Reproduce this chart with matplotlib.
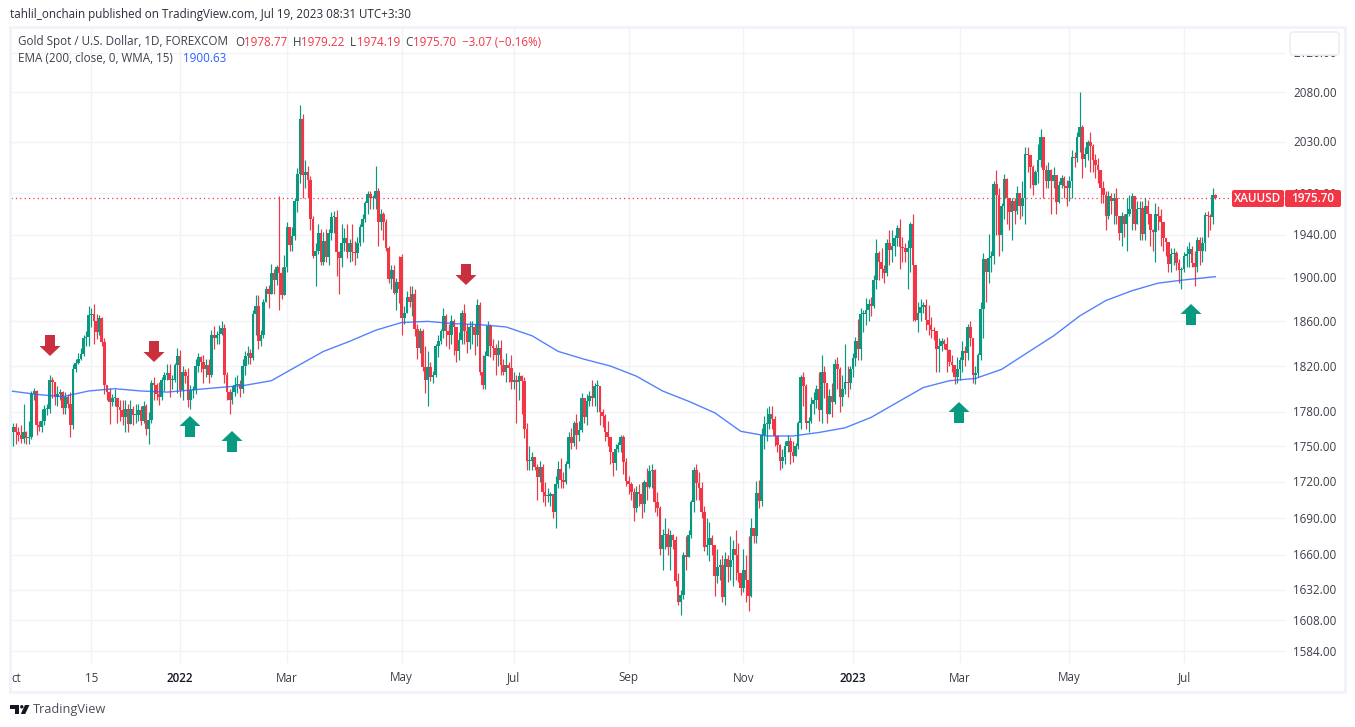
import matplotlib
matplotlib.use("Agg")
import matplotlib.pyplot as plt
from matplotlib.patches import Polygon, Rectangle, FancyBboxPatch
import numpy as np

plt.rcParams['font.family'] = ['Open Sans', 'DejaVu Sans']

# daily closes, 10 per row
closes = [
    1762,1767,1762,1760,1756,1762,1757,1758,1795,1798,
    1768,1767,1772,1782,1782,1808,1806,1793,1795,1797,
    1783,1793,1787,1768,1817,1823,1826,1831,1845,1846,
    1866,1867,1860,1850,1863,1841,1803,1797,1788,1792,
    1792,1784,1781,1775,1782,1769,1782,1777,1777,1781,
    1772,1785,1765,1773,1805,1803,1795,1793,1808,1812,
    1814,1808,1808,1821,1829,1799,1815,1811,1790,1799,
    1799,1820,1828,1824,1817,1821,1812,1848,1845,1848,
    1849,1854,1812,1797,1790,1797,1803,1804,1800,1820,
    1829,1832,1827,1867,1874,1842,1848,1878,1890,1885,
    1904,1898,1910,1904,1884,1910,1948,1931,1939,1972,
    1999,2053,1998,2000,1993,1955,1920,1925,1942,1915,
    1934,1919,1942,1957,1957,1924,1918,1932,1937,1924,
    1932,1924,1923,1932,1948,1955,1970,1979,1975,1975,
    1982,1952,1960,1952,1928,1899,1907,1886,1896,1890,
    1863,1868,1882,1878,1885,1853,1836,1851,1819,1808,
    1819,1810,1812,1838,1842,1851,1865,1851,1848,1860,
    1855,1833,1843,1868,1851,1841,1855,1855,1848,1875,
    1815,1803,1829,1856,1838,1836,1830,1836,1821,1815,
    1821,1818,1806,1808,1806,1811,1807,1765,1738,1738,
    1741,1733,1724,1733,1712,1708,1708,1710,1695,1718,
    1731,1722,1720,1735,1758,1753,1770,1760,1764,1792,
    1775,1789,1794,1792,1802,1802,1780,1776,1762,1758,
    1745,1736,1748,1751,1758,1737,1721,1718,1712,1698,
    1712,1710,1702,1720,1716,1729,1730,1703,1698,1665,
    1676,1677,1666,1676,1672,1639,1622,1628,1660,1658,
    1676,1703,1730,1719,1715,1695,1666,1668,1674,1668,
    1643,1650,1652,1626,1657,1650,1656,1665,1660,1645,
    1633,1648,1640,1627,1682,1675,1711,1704,1760,1769,
    1769,1778,1774,1759,1751,1738,1741,1750,1755,1745,
    1742,1750,1770,1810,1802,1770,1772,1787,1790,1800,
    1781,1815,1805,1778,1794,1788,1822,1817,1793,1800,
    1806,1805,1817,1827,1842,1835,1867,1867,1870,1876,
    1874,1898,1923,1915,1908,1904,1932,1926,1930,1937,
    1947,1929,1928,1924,1928,1950,1912,1861,1868,1873,
    1875,1861,1857,1852,1851,1835,1838,1842,1840,1834,
    1824,1821,1810,1817,1825,1833,1832,1855,1845,1812,
    1814,1830,1871,1917,1905,1918,1920,1989,1978,1940,
    1968,1994,1975,1962,1972,1963,1980,1968,1975,2018,
    2017,2005,1988,2000,2012,2035,2002,1992,2002,1992,
    1998,1971,1988,1995,1987,1985,1992,2015,2014,2035,
    2045,2013,2018,2030,2026,2012,2007,2002,1985,1978,
    1958,1977,1972,1975,1958,1942,1958,1950,1960,1965,
    1977,1950,1965,1966,1941,1968,1960,1945,1943,1960,
    1958,1952,1937,1933,1913,1922,1923,1914,1907,1908,
    1920,1922,1927,1914,1910,1935,1925,1932,1959,1958,
    1957,1978,1975.7,
]
highs = [
    1770,1770,1770,1767,1768,1787,1763,1772,1798,1801,
    1799,1772,1782,1786,1787,1812,1810,1803,1802,1800,
    1798,1797,1795,1797,1822,1826,1832,1836,1848,1851,
    1874,1872,1876,1867,1866,1864,1845,1803,1801,1795,
    1800,1790,1790,1790,1790,1787,1790,1785,1787,1787,
    1785,1789,1787,1780,1808,1810,1805,1806,1810,1815,
    1822,1822,1812,1823,1836,1834,1820,1817,1818,1803,
    1802,1826,1832,1829,1830,1826,1826,1852,1856,1851,
    1857,1860,1858,1815,1800,1802,1810,1812,1808,1826,
    1833,1838,1835,1870,1884,1884,1852,1880,1892,1893,
    1913,1908,1912,1977,1910,1921,1952,1937,1948,1975,
    2004,2067,2058,2012,2006,1997,1958,1932,1950,1946,
    1943,1946,1946,1962,1963,1964,1925,1950,1947,1950,
    1936,1950,1934,1938,1950,1960,1972,1982,1982,1978,
    2006,1985,1965,1962,1955,1930,1912,1912,1900,1920,
    1922,1874,1888,1892,1892,1890,1858,1854,1853,1838,
    1833,1824,1816,1840,1848,1853,1872,1867,1858,1866,
    1862,1852,1850,1870,1876,1858,1860,1860,1858,1880,
    1878,1830,1833,1860,1858,1844,1840,1843,1843,1826,
    1832,1824,1830,1815,1812,1815,1812,1810,1770,1750,
    1745,1740,1735,1738,1735,1720,1715,1712,1705,1725,
    1738,1740,1728,1738,1762,1766,1772,1778,1772,1796,
    1785,1795,1798,1808,1805,1808,1790,1782,1778,1772,
    1758,1745,1752,1754,1760,1760,1740,1725,1720,1715,
    1717,1718,1720,1722,1732,1734,1735,1731,1712,1700,
    1681,1690,1682,1680,1677,1675,1645,1632,1662,1675,
    1680,1705,1733,1735,1728,1720,1700,1690,1687,1676,
    1660,1665,1657,1660,1662,1660,1675,1672,1680,1670,
    1645,1665,1660,1675,1690,1682,1721,1722,1766,1776,
    1783,1785,1785,1776,1760,1752,1748,1755,1760,1758,
    1755,1753,1772,1812,1815,1804,1775,1793,1797,1803,
    1815,1830,1820,1802,1800,1805,1826,1828,1819,1812,
    1840,1820,1820,1832,1846,1862,1872,1870,1881,1880,
    1882,1903,1936,1925,1928,1912,1936,1945,1945,1940,
    1949,1955,1938,1932,1935,1952,1960,1880,1878,1880,
    1878,1880,1875,1864,1855,1848,1845,1845,1844,1846,
    1835,1830,1820,1828,1828,1842,1838,1858,1860,1845,
    1820,1832,1878,1923,1915,1941,1925,1992,2002,1985,
    1970,1999,1995,1973,1975,1975,1987,1975,1992,2025,
    2025,2017,2007,2002,2028,2043,2035,2007,2010,2003,
    2005,1997,1992,1998,1997,1993,1997,2022,2020,2040,
    2080,2047,2025,2032,2040,2028,2018,2014,1992,1992,
    1982,1982,1980,1980,1985,1958,1962,1960,1975,1978,
    1980,1967,1972,1972,1972,1975,1973,1950,1946,1970,
    1968,1965,1945,1937,1928,1928,1928,1925,1917,1910,
    1924,1930,1933,1930,1925,1938,1938,1938,1962,1963,
    1960,1985,1979.2,
]
lows = [
    1748,1750,1752,1755,1753,1753,1752,1752,1756,1790,
    1760,1763,1762,1768,1777,1779,1792,1786,1785,1790,
    1778,1778,1783,1758,1765,1815,1822,1825,1829,1838,
    1838,1855,1840,1844,1848,1838,1795,1790,1769,1785,
    1785,1770,1772,1768,1762,1762,1773,1768,1770,1772,
    1768,1770,1760,1752,1770,1790,1790,1786,1790,1798,
    1808,1793,1800,1806,1796,1793,1790,1805,1784,1782,
    1792,1795,1815,1815,1805,1810,1805,1810,1835,1840,
    1840,1848,1805,1790,1778,1787,1794,1796,1793,1796,
    1812,1822,1822,1825,1848,1835,1838,1845,1878,1872,
    1888,1885,1893,1870,1880,1884,1905,1925,1925,1935,
    1962,1990,1975,1985,1975,1945,1918,1892,1922,1912,
    1912,1915,1912,1935,1942,1902,1885,1910,1925,1918,
    1915,1916,1912,1918,1930,1933,1952,1960,1965,1965,
    1965,1930,1945,1935,1925,1895,1890,1885,1870,1877,
    1848,1858,1868,1873,1865,1847,1826,1832,1816,1796,
    1785,1807,1805,1810,1828,1840,1845,1838,1835,1840,
    1830,1824,1825,1840,1840,1832,1835,1840,1830,1838,
    1812,1800,1800,1830,1828,1825,1812,1820,1812,1812,
    1806,1806,1800,1800,1770,1790,1778,1757,1730,1730,
    1730,1730,1705,1720,1703,1700,1703,1700,1690,1682,
    1715,1715,1715,1718,1732,1748,1750,1748,1755,1762,
    1770,1768,1785,1785,1785,1780,1768,1767,1755,1750,
    1735,1725,1730,1745,1745,1727,1717,1710,1705,1688,
    1695,1700,1690,1695,1705,1715,1715,1695,1692,1660,
    1648,1665,1660,1648,1665,1635,1620,1612,1625,1648,
    1660,1674,1695,1705,1705,1690,1663,1660,1655,1660,
    1627,1637,1640,1622,1620,1638,1640,1635,1640,1638,
    1628,1630,1622,1615,1626,1670,1670,1698,1700,1748,
    1755,1765,1765,1750,1745,1730,1732,1735,1745,1735,
    1737,1742,1748,1765,1785,1765,1762,1770,1778,1783,
    1772,1770,1792,1770,1778,1775,1787,1800,1780,1785,
    1795,1793,1800,1810,1820,1825,1825,1850,1857,1860,
    1865,1872,1890,1898,1900,1895,1902,1912,1915,1920,
    1930,1908,1915,1915,1890,1905,1860,1860,1850,1860,
    1868,1852,1848,1845,1843,1815,1815,1833,1835,1815,
    1820,1815,1804,1805,1808,1815,1820,1825,1838,1805,
    1804,1810,1825,1845,1878,1895,1905,1913,1940,1920,
    1925,1955,1950,1945,1935,1950,1960,1955,1958,1950,
    2000,1985,1978,1988,1990,2005,1975,1985,1985,1960,
    1985,1960,1970,1985,1975,1968,1972,1975,2005,2010,
    2020,1995,2005,2012,2000,2000,1995,1990,1970,1970,
    1945,1955,1960,1950,1950,1935,1930,1938,1925,1958,
    1945,1945,1950,1935,1935,1935,1950,1930,1925,1915,
    1945,1930,1925,1920,1905,1905,1912,1907,1895,1890,
    1905,1910,1910,1910,1892,1905,1912,1915,1925,1938,
    1945,1950,1974.2,
]
first_open = 1750
open_gaps = {150: 1919}   # bars that do not open at the previous close

# EMA read every 10 bars
ema_bars = [0,10,20,30,40,50,60,70,80,90,100,110,120,130,140,150,160,170,180,190,
            200,210,220,230,240,250,260,270,280,290,300,310,320,330,340,350,360,
            370,380,390,400,410,420,430,440,450,462]
ema_vals = [1798,1795,1793,1798,1800,1798,1797,1799,1801,1803,1807,1820,1833,1842,
            1852,1859,1860,1858,1857,1855,1847,1833,1826,1820,1811,1798,1789,1779,
            1763,1759,1759,1762,1766,1775,1788,1801,1807,1809,1817,1832,1847,1865,
            1879,1888,1895,1898,1901]

price_ticks = [1584,1608,1632,1660,1690,1720,1750,1780,1820,1860,1900,1940,1980,2030,2080,2120]
time_bars = [31,65,106,150,193,237,281,323,364,406,450]
time_labels = ['15','2022','Mar','May','Jul','Sep','Nov','2023','Mar','May','Jul']
last_price = 1975.7

# annotation arrows, pixel position on the page (x, tip y)
down_arrows = [(50, 356), (154, 362), (466, 285)]
up_arrows = [(190, 416), (232, 431), (959, 402), (1191, 304)]

UP = '#089981'
DOWN = '#F23645'
GRID = '#F2F3F7'
TEXT = '#3b3f4a'
W, H = 1355, 727
bar_px = 2.608
x0_px = 10.5
pane = (11, 28, 1285, 663)   # left, top, right, bottom in pixels
ref_y, ref_p, px_per_log = 651, 1584, 2052

fig = plt.figure(figsize=(W / 100, H / 100), dpi=100)
ax = fig.add_axes([pane[0] / W, 1 - pane[3] / H, (pane[2] - pane[0]) / W, (pane[3] - pane[1]) / H])
ax.set_yscale('log')
ax.set_xlim((pane[0] - x0_px) / bar_px, (pane[2] - x0_px) / bar_px)
ax.set_ylim(ref_p * np.exp((ref_y - pane[3]) / px_per_log), ref_p * np.exp((ref_y - pane[1]) / px_per_log))

closes = np.array(closes, dtype=float)
highs = np.array(highs, dtype=float)
lows = np.array(lows, dtype=float)
opens = np.r_[first_open, closes[:-1]]
for k, v in open_gaps.items():
    opens[k] = v
idx = np.arange(len(closes))
colors = [UP if c >= o else DOWN for o, c in zip(opens, closes)]
top = np.maximum(opens, closes)
bot = np.minimum(opens, closes)

for s in ax.spines.values():
    s.set_visible(False)
ax.minorticks_off()
ax.set_yticks(price_ticks)
ax.set_xticks(time_bars)
ax.tick_params(which='both', length=0, labelleft=False, labelbottom=False)
ax.grid(True, color=GRID, linewidth=1)
ax.set_axisbelow(True)

ax.vlines(idx, np.minimum(lows, bot), np.maximum(highs, top), colors=colors, linewidth=0.85, zorder=2)
ax.bar(idx, np.maximum(top - bot, 0.8), bottom=bot, width=1.0, color=colors, linewidth=0, zorder=3)
ax.axhline(last_price, color=DOWN, linewidth=0.9, linestyle=(0, (1, 2.5)), zorder=1)
ax.plot(ema_bars, ema_vals, color='#2962FF', linewidth=1.0, alpha=0.8, zorder=4)

# page overlay in pixel coordinates for all the chrome
ov = fig.add_axes([0, 0, 1, 1], facecolor='none')
ov.set_xlim(0, W)
ov.set_ylim(H, 0)
ov.axis('off')

ov.add_patch(Rectangle((10, 27), 1335, 665, fill=False, edgecolor='#F0F3FA', linewidth=2))

for x, tip in down_arrows:
    ov.add_patch(Polygon([(x - 5, tip - 21), (x + 5, tip - 21), (x + 5, tip - 10), (x + 10.5, tip - 10),
                          (x, tip), (x - 10.5, tip - 10), (x - 5, tip - 10)], color='#C92F3C', lw=0))
for x, tip in up_arrows:
    ov.add_patch(Polygon([(x - 5, tip + 21), (x + 5, tip + 21), (x + 5, tip + 10), (x + 10.5, tip + 10),
                          (x, tip), (x - 10.5, tip + 10), (x - 5, tip + 10)], color='#089981', lw=0))

fs = 8.4
ov.text(10, 14.5, 'tahlil_onchain published on TradingView.com, Jul 19, 2023 08:31 UTC+3:30',
        fontsize=fs, color='#2a2e39', va='center')
ov.text(18, 42, 'Gold Spot / U.S. Dollar, 1D, FOREXCOM', fontsize=fs, color=TEXT, va='center')
for x, t, c in [(235, 'O', TEXT), (244, '1978.77', DOWN), (293, 'H', TEXT), (301, '1979.22', DOWN),
                (350, 'L', TEXT), (357, '1974.19', DOWN), (405, 'C', TEXT), (413, '1975.70', DOWN),
                (462, '\u22123.07 (\u22120.16%)', DOWN)]:
    ov.text(x, 42, t, fontsize=fs, color=c, va='center')
ov.text(18, 59, 'EMA (200, close, 0, WMA, 15)', fontsize=fs, color=TEXT, va='center')
ov.text(183, 59, '1900.63', fontsize=fs, color='#2962FF', va='center')

def price_y(p):
    return ref_y - px_per_log * np.log(p / ref_p)

for p in price_ticks:
    ov.text(1293, price_y(p) + 1, f'{p:.2f}', fontsize=fs, color=TEXT, va='center')

ov.add_patch(FancyBboxPatch((1290, 32), 49, 23, boxstyle='round,pad=0,rounding_size=3',
                            facecolor='white', edgecolor='#ECEEF3', linewidth=1.2, zorder=5))
ov.add_patch(FancyBboxPatch((1232, 190), 52, 17, boxstyle='round,pad=0,rounding_size=2',
                            facecolor=DOWN, edgecolor='none', zorder=5))
ov.add_patch(FancyBboxPatch((1285, 190), 56, 17, boxstyle='round,pad=0,rounding_size=2',
                            facecolor=DOWN, edgecolor='none', zorder=5))
ov.text(1258, 198.5, 'XAUUSD', fontsize=fs, color='white', ha='center', va='center', weight='semibold', zorder=6)
ov.text(1313, 198.5, '1975.70', fontsize=fs, color='white', ha='center', va='center', weight='semibold', zorder=6)

ov.text(11, 678, 'ct', fontsize=fs, color=TEXT, va='center')
for b, t in zip(time_bars, time_labels):
    bold = t in ('2022', '2023')
    ov.text(x0_px + b * bar_px, 678, t, fontsize=fs, color='#131722' if bold else TEXT,
            ha='center', va='center', weight='semibold' if bold else 'normal')

# TradingView logo
ov.add_patch(Polygon([(10, 705), (19, 705), (19, 714), (15, 714), (15, 708.5), (10, 708.5)], color='#131722', lw=0))
ov.add_patch(plt.Circle((21.8, 706.8), 1.7, color='#131722', lw=0))
ov.add_patch(Polygon([(25, 705), (29.5, 705), (25.2, 714), (20.8, 714)], color='#131722', lw=0))
ov.text(33, 709.5, 'TradingView', fontsize=9.2, color='#4a4e59', va='center')

fig.savefig('out.png', dpi=100)
